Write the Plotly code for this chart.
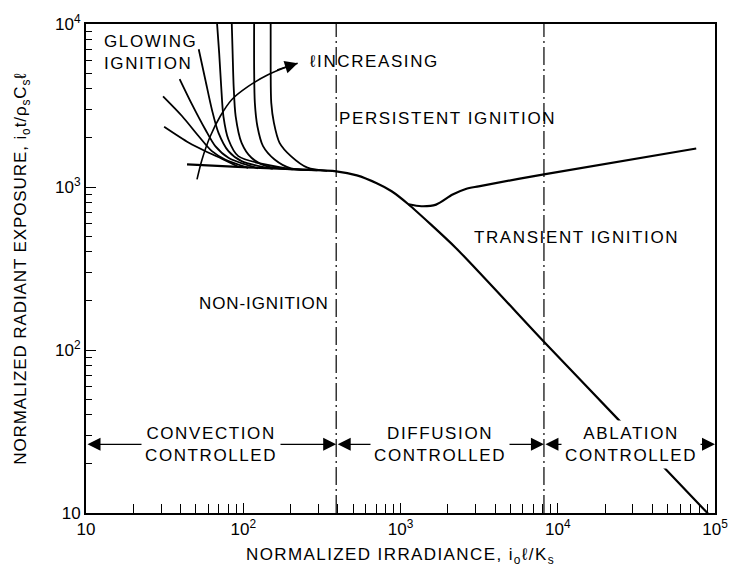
import numpy as np
import plotly.graph_objects as go

# ---- data (x: normalized irradiance, y: normalized radiant exposure) ----
# critical ignition boundary: convective plateau, bend, then the ablation slope
main_x = [43.9, 107, 222, 390, 528, 706, 878, 1122, 2249, 8054, 24550, 87700, 100000]
main_y = [1377, 1318, 1282, 1248, 1178, 1054, 942, 784, 423, 114, 37.0, 10.2, 8.9]

# persistent / transient ignition boundary
persist_x = [1122, 1356, 1684, 2145, 2601, 3140, 8166, 75960]
persist_y = [784, 762, 780, 899, 972, 1010, 1196, 1723]

# glowing ignition family (one curve per thickness)
glow_x = [
    [31.4, 45.1, 60.3, 73.0, 93.0],
    [30.9, 40.9, 52.1, 63.2, 76.7, 107.5],
    [39.4, 47.3, 57.4, 66.4, 80.5, 124],
    [52.1, 57.4, 63.2, 69.6, 80.5, 97.6, 154],
    [67.9, 70.3, 72.4, 74.8, 80.5, 93.0, 206],
    [84.4, 85.6, 86.9, 89.5, 97.6, 112.8, 143.6, 256],
    [117.3, 117.3, 118.5, 123.0, 133.6, 158.2, 201, 296],
    [149.4, 149.4, 150.7, 156.7, 170.2, 201, 256, 342],
]
glow_y = [
    [2339, 1867, 1622, 1491, 1331],
    [3596, 2716, 2048, 1659, 1476, 1310],
    [4595, 3201, 2252, 1781, 1512, 1301],
    [7004, 4549, 2983, 2149, 1659, 1441, 1292],
    [10580, 6622, 4140, 2716, 1956, 1547, 1283],
    [10580, 6622, 4140, 2716, 1867, 1512, 1332, 1274],
    [10580, 5236, 3279, 2358, 1781, 1476, 1301, 1265],
    [10580, 5236, 3279, 2474, 1867, 1547, 1314, 1256],
]

# "l increasing" indicator path
incr_x = [50.8, 54.7, 61.7, 71.4, 84.4, 107.5, 143.6, 191.9, 221.8]
incr_y = [1114, 1476, 2048, 2716, 3433, 4140, 4880, 5486, 5738]

# regime boundaries and the level of the regime arrows
regime_edges = [10, 390, 8170, 100000]
regime_names = ["CONVECTION<br>CONTROLLED", "DIFFUSION<br>CONTROLLED", "ABLATION<br>CONTROLLED"]
regime_label_x = [62, 1785, 29200]
arrow_level = 26.4

x_ticks = [10, 100, 1000, 10000, 100000]
x_ticktext = ["10", "10<sup>2</sup>", "10<sup>3</sup>", "10<sup>4</sup>", "10<sup>5</sup>"]
y_ticks = [10, 100, 1000, 10000]
y_ticktext = ["10", "10<sup>2</sup>", "10<sup>3</sup>", "10<sup>4</sup>"]

FONT = "Liberation Sans, Arial, sans-serif"
INK = "black"


def spaced(txt, ls=1.6):
    return f'<span style="letter-spacing:{ls}px">{txt}</span>'


fig = go.Figure()

for gx, gy in zip(glow_x, glow_y):
    fig.add_trace(go.Scatter(x=gx, y=gy, mode="lines",
                             line=dict(color=INK, width=1.8, shape="spline", smoothing=0.8)))

fig.add_trace(go.Scatter(x=main_x, y=main_y, mode="lines",
                         line=dict(color=INK, width=2.2, shape="spline", smoothing=0.6)))
fig.add_trace(go.Scatter(x=persist_x, y=persist_y, mode="lines",
                         line=dict(color=INK, width=2.2, shape="spline", smoothing=0.8)))
fig.add_trace(go.Scatter(x=incr_x, y=incr_y, mode="lines",
                         line=dict(color=INK, width=1.6, shape="spline", smoothing=0.8)))

# dash-dot regime boundaries
for xb in regime_edges[1:3]:
    fig.add_trace(go.Scatter(x=[xb, xb], y=[10, 10000], mode="lines",
                             line=dict(color=INK, width=1.2, dash="18px,4px,2px,4px")))

annotations = []

# double-headed regime arrows
for a, b in zip(regime_edges[:-1], regime_edges[1:]):
    annotations.append(dict(
        x=np.log10(b), y=np.log10(arrow_level), ax=np.log10(a), ay=np.log10(arrow_level),
        xref="x", yref="y", axref="x", ayref="y", text="", showarrow=True,
        arrowside="end+start", arrowhead=2, startarrowhead=2,
        arrowsize=2.0, startarrowsize=2.0, arrowwidth=1.3, arrowcolor=INK))

# arrowhead at the end of the "l increasing" path
annotations.append(dict(
    x=np.log10(incr_x[-1]), y=np.log10(incr_y[-1]), ax=-22, ay=7,
    xref="x", yref="y", text="", showarrow=True, arrowhead=2,
    arrowsize=1.7, arrowwidth=1.5, arrowcolor=INK))

label_font = dict(family=FONT, size=17, color=INK)

for name, lx in zip(regime_names, regime_label_x):
    annotations.append(dict(
        x=np.log10(lx), y=np.log10(arrow_level), xref="x", yref="y",
        text=spaced(name), showarrow=False, font=label_font,
        bgcolor="white", borderpad=3, xanchor="center", yanchor="middle"))

region_labels = [
    ("GLOWING<br>IGNITION", 12.55, 6650, 1.6),
    ("\u2113INCREASING", 256, 5900, 1.6),
    ("PERSISTENT IGNITION", 396, 2648, 1.6),
    ("TRANSIENT IGNITION", 2866, 490, 1.6),
    ("NON-IGNITION", 51, 192, 0.9),
]
for txt, lx, ly, ls in region_labels:
    annotations.append(dict(
        x=np.log10(lx), y=np.log10(ly), xref="x", yref="y",
        text=spaced(txt, ls), showarrow=False, font=label_font,
        xanchor="left", yanchor="middle", align="left"))

minor_x = [m * 10 ** d for d in range(1, 5) for m in range(2, 10)]
minor_y = [m * 10 ** d for d in range(1, 4) for m in range(2, 10)]

axis_common = dict(
    type="log", showgrid=False, zeroline=False,
    showline=True, linecolor=INK, linewidth=2, mirror=True,
    ticks="inside", ticklen=10, tickwidth=1.2, tickcolor=INK,
    tickfont=dict(family=FONT, size=17, color=INK),
)

fig.update_layout(
    width=740, height=573,
    margin=dict(l=86, r=18, t=22, b=60),
    paper_bgcolor="white", plot_bgcolor="white",
    showlegend=False,
    annotations=annotations,
    xaxis=dict(
        **axis_common, range=[1, 5],
        tickvals=x_ticks, ticktext=x_ticktext,
        minor=dict(tickvals=minor_x, ticks="inside", ticklen=9, tickwidth=1.1, tickcolor=INK),
        title=dict(text=spaced("NORMALIZED IRRADIANCE, i<sub>o</sub>\u2113/K<sub>s</sub>", 1.4),
                   font=dict(family=FONT, size=17, color=INK), standoff=10),
    ),
    yaxis=dict(
        **axis_common, range=[1, 4],
        tickvals=y_ticks, ticktext=y_ticktext,
        minor=dict(tickvals=minor_y, ticks="inside", ticklen=6, tickwidth=1.1, tickcolor=INK),
        title=dict(text=spaced("NORMALIZED RADIANT EXPOSURE, i<sub>o</sub>t/\u03c1<sub>s</sub>C<sub>s</sub>\u2113", 0.9),
                   font=dict(family=FONT, size=17, color=INK), standoff=24),
    ),
)

fig.write_html("out.html")
